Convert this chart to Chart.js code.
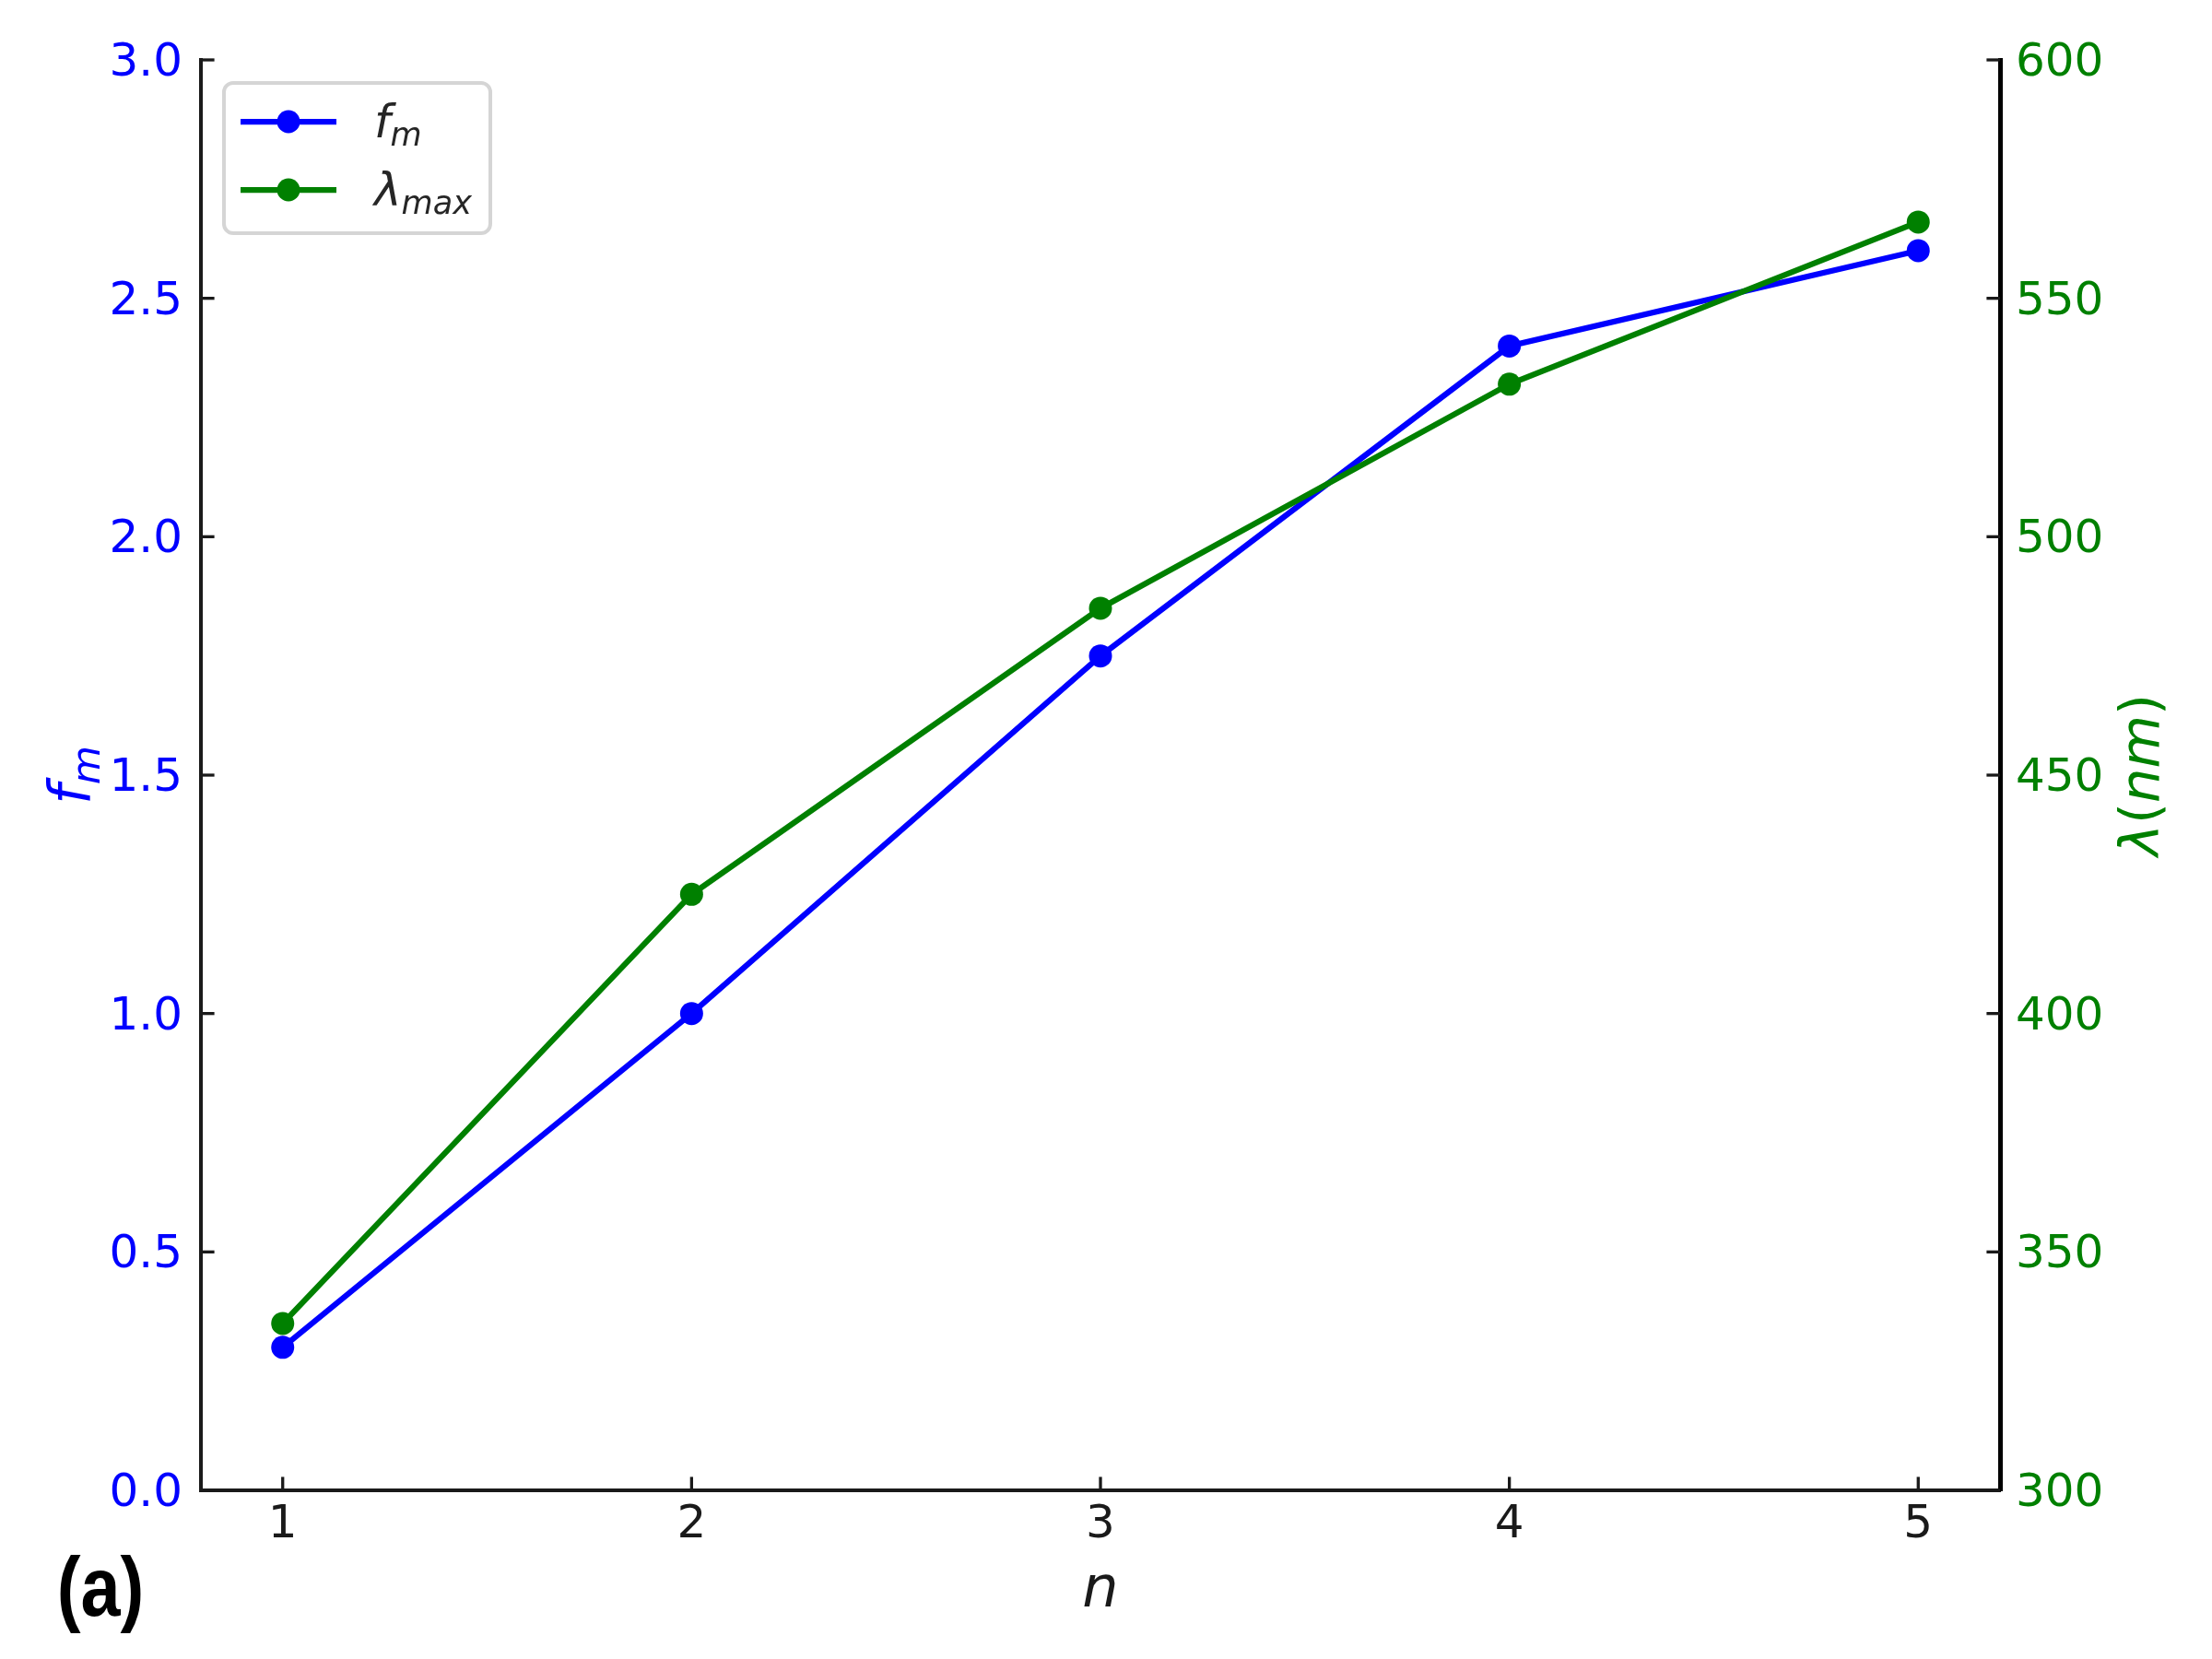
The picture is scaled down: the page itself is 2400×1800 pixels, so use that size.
<!DOCTYPE html>
<html>
<head>
<meta charset="utf-8">
<script src="https://cdn.jsdelivr.net/npm/chart.js@4.4.1/dist/chart.umd.min.js"></script>
<style>
  body { margin: 0; background: #fff; }
  #wrap { width: 2400px; height: 1800px; }
</style>
</head>
<body>
<div id="wrap"><canvas id="chart" width="2400" height="1800"></canvas></div>
<script>
const nValues = [1, 2, 3, 4, 5]
const fmValues = [0.3, 1.0, 1.75, 2.4, 2.6]
const lambdaValues = [335, 425, 485, 532, 566]

const nTicks = [1, 2, 3, 4, 5]
const fmTicks = [0, 0.5, 1.0, 1.5, 2.0, 2.5, 3.0]
const lambdaTicks = [300, 350, 400, 450, 500, 550, 600]

const seriesLabels = ['f_m', 'λ_max']

const BLUE = '#0000ff'
const GREEN = '#008000'
const INK = '#1a1a1a'
const FONT = '"DejaVu Sans", sans-serif'

// draw a run of text pieces (italic / subscript) along one baseline
function drawMath(ctx, parts, x, y, align, angle, color) {
  ctx.save()
  ctx.translate(x, y)
  ctx.rotate(angle)
  ctx.fillStyle = color
  ctx.textBaseline = 'alphabetic'
  ctx.textAlign = 'left'
  const fontOf = p => (p.i ? 'italic ' : '') + p.s + 'px ' + FONT
  let w = 0
  parts.forEach(p => { ctx.font = fontOf(p); w += ctx.measureText(p.t).width })
  let cx = align === 'center' ? -w / 2 : 0
  parts.forEach(p => {
    ctx.font = fontOf(p)
    ctx.fillText(p.t, cx, p.d || 0)
    cx += ctx.measureText(p.t).width
  })
  ctx.restore()
}

function labelParts(label, size) {
  const [base, sub] = label.split('_')
  const parts = [{t: base, s: size, i: true}]
  if (sub) parts.push({t: sub, s: size * 0.7, i: true, d: size * 0.18})
  return parts
}

// matplotlib style ticks pointing into the plot
const inwardTicks = {
  id: 'inwardTicks',
  afterDraw(chart) {
    const {ctx, chartArea: a, scales} = chart
    const len = 14.6
    ctx.save()
    ctx.strokeStyle = INK
    ctx.lineWidth = 3.3
    const line = (x1, y1, x2, y2) => {
      ctx.beginPath(); ctx.moveTo(x1, y1); ctx.lineTo(x2, y2); ctx.stroke()
    }
    scales.x.ticks.forEach(t => {
      const px = scales.x.getPixelForValue(t.value)
      line(px, a.bottom, px, a.bottom - len)
    })
    scales.y.ticks.forEach(t => {
      const py = scales.y.getPixelForValue(t.value)
      line(a.left, py, a.left + len, py)
    })
    scales.y2.ticks.forEach(t => {
      const py = scales.y2.getPixelForValue(t.value)
      line(a.right, py, a.right - len, py)
    })
    ctx.restore()
  }
}

const decorations = {
  id: 'decorations',
  afterDraw(chart) {
    const {ctx, chartArea: a} = chart
    const midY = (a.top + a.bottom) / 2

    // axis titles
    drawMath(ctx, [{t: 'n', s: 62, i: true}], (a.left + a.right) / 2, 1743, 'center', 0, INK)
    drawMath(ctx, labelParts('f_m', 62), 97, midY, 'center', -Math.PI / 2, BLUE)
    drawMath(ctx, [
      {t: 'λ', s: 59, i: true},
      {t: '(', s: 59},
      {t: 'nm', s: 59, i: true},
      {t: ')', s: 59}
    ], 2342, midY, 'center', -Math.PI / 2, GREEN)

    // legend
    const rows = [132, 206]
    ctx.save()
    ctx.fillStyle = 'rgba(255,255,255,0.8)'
    ctx.strokeStyle = '#d5d5d5'
    ctx.lineWidth = 4
    ctx.beginPath()
    ctx.roundRect(243, 90, 289, 163, 10)
    ctx.fill()
    ctx.stroke()
    chart.data.datasets.forEach((ds, i) => {
      const y = rows[i]
      ctx.strokeStyle = ds.borderColor
      ctx.lineWidth = ds.borderWidth
      ctx.beginPath(); ctx.moveTo(261, y); ctx.lineTo(365, y); ctx.stroke()
      ctx.fillStyle = ds.pointBackgroundColor
      ctx.beginPath(); ctx.arc(313, y, ds.pointRadius, 0, Math.PI * 2); ctx.fill()
      drawMath(ctx, labelParts(ds.label, 50), 406, y + 17, 'left', 0, '#262626')
    })
    ctx.restore()

    // panel letter, condensed bold
    ctx.save()
    ctx.fillStyle = '#000'
    ctx.translate(109, 1753)
    ctx.scale(0.86, 1)
    ctx.font = 'bold 90px "Liberation Sans Narrow", "Liberation Sans", sans-serif'
    ctx.textAlign = 'center'
    ctx.textBaseline = 'alphabetic'
    ctx.fillText('(a)', 0, 0)
    ctx.restore()
  }
}

const data = {
  datasets: [
    {
      label: seriesLabels[0],
      data: nValues.map((n, i) => ({x: n, y: fmValues[i]})),
      yAxisID: 'y',
      borderColor: BLUE,
      backgroundColor: BLUE,
      pointBackgroundColor: BLUE,
      borderWidth: 6.25,
      pointRadius: 12.5,
      pointBorderWidth: 0,
      order: 1
    },
    {
      label: seriesLabels[1],
      data: nValues.map((n, i) => ({x: n, y: lambdaValues[i]})),
      yAxisID: 'y2',
      borderColor: GREEN,
      backgroundColor: GREEN,
      pointBackgroundColor: GREEN,
      borderWidth: 6.25,
      pointRadius: 12.5,
      pointBorderWidth: 0,
      order: 0
    }
  ]
}

const tickFont = {family: FONT, size: 50}

const options = {
  responsive: false,
  devicePixelRatio: 1,
  animation: false,
  layout: {padding: {top: 65, left: 0, right: 0, bottom: 0}},
  plugins: {legend: {display: false}, tooltip: {enabled: false}},
  scales: {
    x: {
      type: 'linear',
      min: 0.8,
      max: 5.2,
      afterBuildTicks: s => { s.ticks = nTicks.map(v => ({value: v})) },
      afterFit: s => { s.height = 183 },
      grid: {display: false, drawTicks: false},
      border: {display: true, color: INK, width: 4},
      ticks: {color: INK, font: tickFont, padding: 8, maxRotation: 0, callback: v => String(v)}
    },
    y: {
      position: 'left',
      min: 0,
      max: 3,
      afterBuildTicks: s => { s.ticks = fmTicks.map(v => ({value: v})) },
      afterFit: s => { s.width = 218 },
      grid: {display: false, drawTicks: false},
      border: {display: true, color: INK, width: 4},
      ticks: {color: BLUE, font: tickFont, padding: 20, labelOffset: 4, callback: v => v.toFixed(1)}
    },
    y2: {
      position: 'right',
      min: 300,
      max: 600,
      afterBuildTicks: s => { s.ticks = lambdaTicks.map(v => ({value: v})) },
      afterFit: s => { s.width = 230 },
      grid: {display: false, drawTicks: false},
      border: {display: true, color: '#000', width: 5},
      ticks: {color: GREEN, font: tickFont, padding: 17, labelOffset: 4, callback: v => String(v)}
    }
  }
}

new Chart(document.getElementById('chart'), {
  type: 'line',
  data: data,
  options: options,
  plugins: [inwardTicks, decorations]
})
</script>
</body>
</html>
